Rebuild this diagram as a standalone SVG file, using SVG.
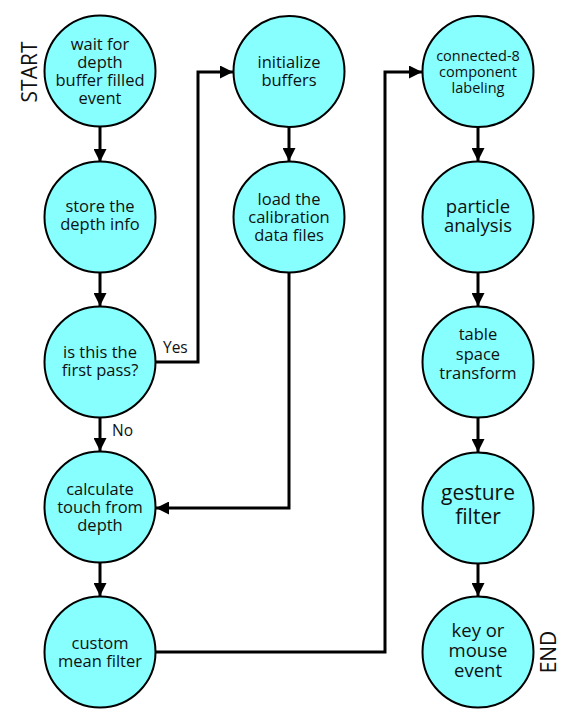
<svg xmlns="http://www.w3.org/2000/svg" width="580" height="721" viewBox="0 0 580 721">
<style>
.n circle{fill:#88ffff;stroke:#000;stroke-width:2}
.n text{font-family:"Open Sans","Liberation Sans",sans-serif;font-size:16.5px;fill:#111;text-anchor:middle}
.n text.s{font-size:14.5px}
.n text.m{font-size:18.5px}
.n text.b{font-size:21px}
.c path{fill:none;stroke:#000;stroke-width:3}
.lbl{font-family:"Open Sans","Liberation Sans",sans-serif;font-size:15.5px;fill:#111}
.se{font-family:"Open Sans","Liberation Sans",sans-serif;font-size:21px;fill:#111;text-anchor:middle}
</style>
<defs>
<marker id="ah" markerUnits="userSpaceOnUse" markerWidth="13" markerHeight="13" viewBox="0 0 13 13" refX="13" refY="6.5" orient="auto">
<path d="M0,0 L13,6.5 L0,13 Z" fill="#000"/>
</marker>
</defs>
<g class="c" id="connectors">
<path d="M100,127 V162" marker-end="url(#ah)"/>
<path d="M100,273 V306" marker-end="url(#ah)"/>
<path d="M155,362 H198 V72 H233" marker-end="url(#ah)"/>
<path d="M100,418 V451" marker-end="url(#ah)"/>
<path d="M289,127 V161" marker-end="url(#ah)"/>
<path d="M289,272 V508 H156" marker-end="url(#ah)"/>
<path d="M100,563 V596" marker-end="url(#ah)"/>
<path d="M155,652 H385 V72 H422" marker-end="url(#ah)"/>
<path d="M478,127 V161" marker-end="url(#ah)"/>
<path d="M478,273 V306" marker-end="url(#ah)"/>
<path d="M478,418 V452" marker-end="url(#ah)"/>
<path d="M478,564 V596" marker-end="url(#ah)"/>
</g>
<text class="lbl" x="163" y="353">Yes</text>
<text class="lbl" x="112" y="436">No</text>
<text class="se" transform="translate(37,72) rotate(-90)">START</text>
<text class="se" transform="translate(556,652) rotate(-90)">END</text>
<g class="n" id="n1"><circle cx="100" cy="71" r="55.5"/>
<text x="100" y="49.5">wait for</text><text x="100" y="67.5">depth</text><text x="100" y="85.5">buffer filled</text><text x="100" y="103.5">event</text></g>
<g class="n" id="n2"><circle cx="100" cy="217" r="55.5"/>
<text x="100" y="212">store the</text><text x="100" y="230">depth info</text></g>
<g class="n" id="n3"><circle cx="100" cy="362" r="55.5"/>
<text x="100" y="358">is this the</text><text x="100" y="376">first pass?</text></g>
<g class="n" id="n4"><circle cx="100" cy="507" r="55.5"/>
<text x="100" y="494.5">calculate</text><text x="100" y="512.5">touch from</text><text x="100" y="530.5">depth</text></g>
<g class="n" id="n5"><circle cx="100" cy="652" r="55.5"/>
<text x="100" y="648.5">custom</text><text x="100" y="666.5">mean filter</text></g>
<g class="n" id="n6"><circle cx="289" cy="71.5" r="55.5"/>
<text x="289" y="68">initialize</text><text x="289" y="86">buffers</text></g>
<g class="n" id="n7"><circle cx="289" cy="217" r="55.5"/>
<text x="289" y="204.5">load the</text><text x="289" y="222.5">calibration</text><text x="289" y="240.5">data files</text></g>
<g class="n" id="n8"><circle cx="478" cy="71.5" r="55.5"/>
<text class="s" x="478" y="61">connected-8</text><text class="s" x="478" y="77">component</text><text class="s" x="478" y="93">labeling</text></g>
<g class="n" id="n9"><circle cx="478" cy="217" r="55.5"/>
<text class="m" x="478" y="213">particle</text><text class="m" x="478" y="232">analysis</text></g>
<g class="n" id="n10"><circle cx="478" cy="362" r="55.5"/>
<text x="478" y="340">table</text><text x="478" y="359.5">space</text><text x="478" y="379">transform</text></g>
<g class="n" id="n11"><circle cx="478" cy="508" r="55.5"/>
<text class="b" x="478" y="500">gesture</text><text class="b" x="478" y="524">filter</text></g>
<g class="n" id="n12"><circle cx="478" cy="652" r="55.5"/>
<text class="m" x="478" y="637">key or</text><text class="m" x="478" y="657">mouse</text><text class="m" x="478" y="677">event</text></g>
</svg>
